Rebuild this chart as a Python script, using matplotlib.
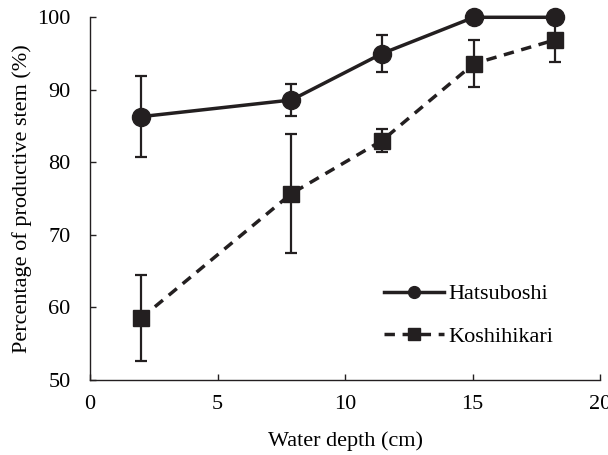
import matplotlib.pyplot as plt
from matplotlib.lines import Line2D

### data ###
depth_hatsu = [2.0, 7.9, 11.45, 15.05, 18.25]
pct_hatsu = [86.3, 88.6, 95.0, 100.0, 100.0]
err_hatsu = [5.6, 2.15, 2.5, 0.0, 0.0]

depth_koshi = [2.0, 7.9, 11.45, 15.05, 18.25]
pct_koshi = [58.5, 75.7, 83.0, 93.6, 96.9]
err_koshi = [5.9, 8.2, 1.6, 3.2, 3.0]

col = '#231f20'
dash = (0, (3, 2.2))
plt.rcParams['font.family'] = ['Liberation Serif', 'DejaVu Serif']
plt.rcParams['font.size'] = 16

fig = plt.figure(figsize=(6.08, 4.55), dpi=100)
ax = fig.add_axes([0.148, 0.165, 0.839, 0.797])

# error bars first, lines and markers on top
ax.errorbar(depth_hatsu, pct_hatsu, yerr=err_hatsu, fmt='none', ecolor=col,
            elinewidth=1.6, capsize=4, capthick=1.6, clip_on=False, zorder=2)
ax.errorbar(depth_koshi, pct_koshi, yerr=err_koshi, fmt='none', ecolor=col,
            elinewidth=1.6, capsize=4, capthick=1.6, clip_on=False, zorder=2)
ax.plot(depth_hatsu, pct_hatsu, color=col, lw=2.5, marker='o', ms=13,
        clip_on=False, zorder=4)
ax.plot(depth_koshi, pct_koshi, color=col, lw=2.5, ls=dash, marker='s',
        ms=11.5, clip_on=False, zorder=3)

ax.set_xlim(0, 20)
ax.set_ylim(50, 100)
ax.set_xticks([0, 5, 10, 15, 20])
ax.set_yticks([50, 60, 70, 80, 90, 100])
ax.tick_params(direction='in', length=4, width=1, color=col)
ax.tick_params(axis='y', pad=14)
ax.tick_params(axis='x', pad=11)
for s in ['top', 'right']:
    ax.spines[s].set_visible(False)
for s in ['left', 'bottom']:
    ax.spines[s].set_color(col)
    ax.spines[s].set_linewidth(1)

ax.set_xlabel('Water depth (cm)', labelpad=12)
ax.set_ylabel('Percentage of productive stem (%)', labelpad=4)

### legend handles without the error bars ###
h1 = Line2D([], [], color=col, lw=2.5, marker='o', ms=8.5)
h2 = Line2D([], [], color=col, lw=2.5, ls=dash, marker='s', ms=8)
ax.legend([h1, h2], ['Hatsuboshi', 'Koshihikari'], loc='lower right',
          bbox_to_anchor=(0.947, 0.035), frameon=False, handlelength=2.7,
          handletextpad=0.2, labelspacing=1.0)

plt.savefig('out.png', dpi=100)
